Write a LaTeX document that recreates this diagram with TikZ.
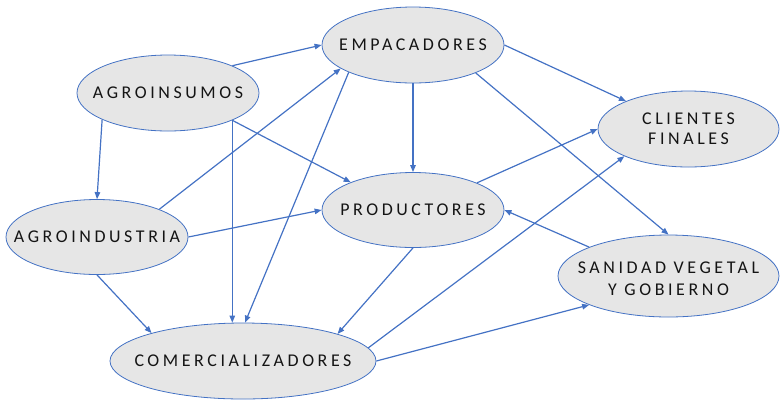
\documentclass[tikz,border=0pt]{standalone}
\usepackage{fontspec}
\setmainfont{Carlito}[LetterSpace=20]
\usetikzlibrary{shapes.geometric,arrows.meta,calc}
\definecolor{edgeblue}{HTML}{4472C4}
\definecolor{nodefill}{HTML}{E6E6E6}
\definecolor{txt}{HTML}{141414}
\tikzset{
  actor/.style={shape=ellipse, draw=edgeblue, fill=nodefill, line width=0.8bp,
    inner sep=0pt, minimum width=182bp, minimum height=76bp},
  actortext/.style={align=center, text=txt, inner sep=0pt, font=\fontsize{18}{20}\selectfont},
  link/.style={draw=edgeblue, line width=1.2bp, -{Triangle[length=7bp,width=5.5bp]}}
}
\begin{document}
\begin{tikzpicture}[x=1bp,y=-1bp]
\useasboundingbox (0,0) rectangle (780,399);
\node[actor, label={[actortext]center:EMPACADORES}] (emp) at (413,45) {};
\node[actor, label={[actortext]center:AGROINSUMOS}] (agro) at (168,93) {};
\node[actor, minimum width=181bp, label={[actortext]center:CLIENTES\\FINALES}] (cli) at (688.5,129) {};
\node[actor, minimum height=75bp, label={[actortext]center:PRODUCTORES}] (prod) at (413,210) {};
\node[actor, minimum height=75bp, label={[actortext]center:AGROINDUSTRIA}] (ind) at (97,237) {};
\node[actor, minimum width=221bp, minimum height=82bp, label={[actortext, font=\fontsize{18}{22}\selectfont, yshift=-3bp]center:SANIDAD VEGETAL\\Y GOBIERNO}] (san) at (668.5,276) {};
\node[actor, minimum width=266bp, label={[actortext]center:COMERCIALIZADORES}] (com) at (243,361) {};

\draw[link] (agro.23.6) -- (emp.west);
\draw[link] (agro.202.6) -- (ind.north);
\draw[link] (agro.337) -- (agro.337 |- com.north);
\draw[link] (agro.337) -- (prod.156.7);
\draw[link] (ind.24) -- (emp.198.4);
\draw[link] (emp.203.3) -- (com.87);
\draw[link] (emp.south) -- (prod.north);
\draw[link] (emp.east) -- (cli.156.9);
\draw[link] (emp.336.7) -- (san.north);
\draw[link] (prod.23.6) -- (cli.west);
\draw[link] (ind.east) -- (prod.west);
\draw[link] (ind.south) -- (com.163.6);
\draw[link] (prod.south) -- (com.16.4);
\draw[link] (com.6.5) -- (cli.203.1);
\draw[link] (com.east) -- (san.200.9);
\draw[link] (san.160.1) -- (prod.east);
\end{tikzpicture}
\end{document}
